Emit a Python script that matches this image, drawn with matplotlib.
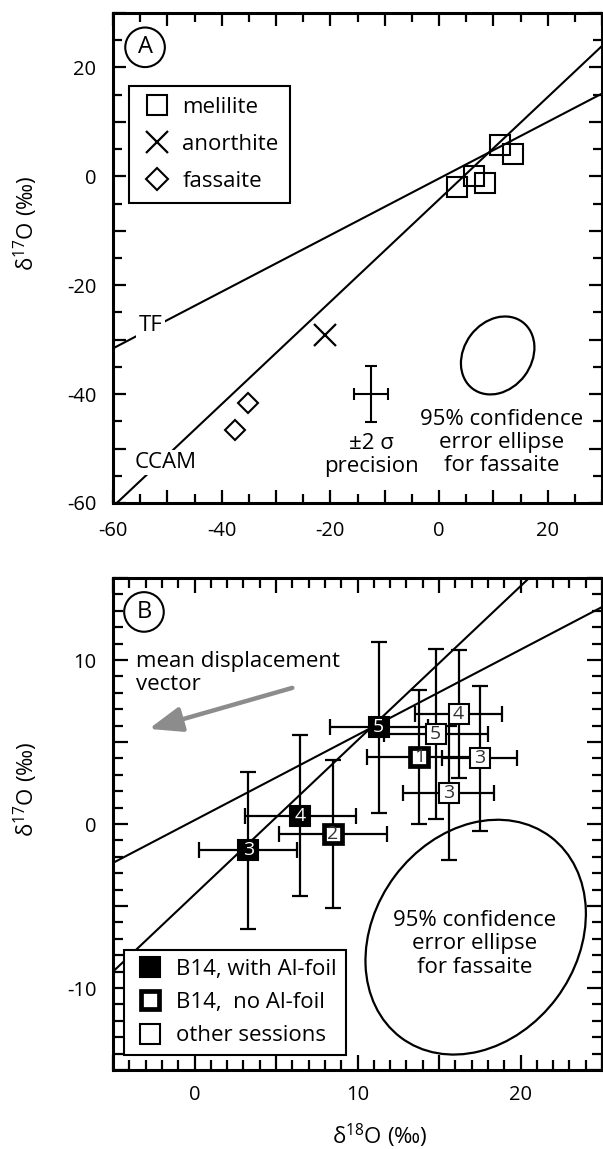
import matplotlib
matplotlib.use("Agg")
import matplotlib.pyplot as plt
from matplotlib.lines import Line2D
from matplotlib.patches import Ellipse
from matplotlib.ticker import MultipleLocator, FuncFormatter

plt.rcParams['font.family'] = ['Open Sans', 'DejaVu Sans']
plt.rcParams['mathtext.default'] = 'regular'
plt.rcParams['axes.unicode_minus'] = False

# ---- panel A data (delta18O, delta17O in permil) ----
mel_x = [3.3, 6.5, 8.5, 11.2, 13.6]
mel_y = [-1.9, 0.1, -1.2, 5.8, 4.1]
an_x = [-21.0]
an_y = [-29.1]
fas_x = [-35.1, -37.6]
fas_y = [-41.7, -46.6]
prec_x = [-12.5]
prec_y = [-40.0]
prec_xerr = [3.1]
prec_yerr = [5.1]

# reference lines: (slope, intercept)
tf_a = (0.52, -0.4)
ccam_a = (0.94, -4.25)
tf_b = (0.52, 0.23)
ccam_b = (0.94, -4.3)

# fassaite 95% error ellipse: centre A, centre B, (major, minor, angle)
ell_a = (10.8, -32.9)
ell_b = (17.25, -6.9)
ell_shape = (15.3, 12.4, 53)

# ---- panel B data ----
foil_x = [3.3, 6.5, 11.3]
foil_y = [-1.6, 0.5, 5.9]
foil_xerr = [3.0, 3.4, 3.0]
foil_yerr = [4.8, 4.9, 5.2]
foil_lab = ['3', '4', '5']

nofoil_x = [8.5, 13.8]
nofoil_y = [-0.6, 4.1]
nofoil_xerr = [3.3, 3.2]
nofoil_yerr = [4.5, 4.1]
nofoil_lab = ['2', '1']

other_x = [14.8, 16.2, 17.5, 15.6]
other_y = [5.5, 6.7, 4.0, 1.9]
other_xerr = [3.2, 2.65, 2.3, 2.8]
other_yerr = [5.2, 3.9, 4.4, 4.1]
other_lab = ['5', '4', '3', '3']

arrow_tail = (6.0, 8.3)
arrow_head = (-2.8, 5.8)

fig = plt.figure(figsize=(6.03, 11.49), dpi=100)
axA = fig.add_axes([113/603, 646/1149, 489/603, 490/1149])
axB = fig.add_axes([113/603, 79/1149, 489/603, 492/1149])


def style(ax, major, minor, every, maj_len, min_len, xpad):
    for a in (ax.xaxis, ax.yaxis):
        a.set_major_locator(MultipleLocator(major))
        a.set_minor_locator(MultipleLocator(minor))
        a.set_major_formatter(FuncFormatter(
            lambda v, p: str(int(round(v))) if int(round(v)) % every == 0 else ''))
    ax.tick_params(which='both', direction='in', top=True, right=True,
                   width=1.6, labelsize=14.5)
    ax.tick_params(which='major', length=maj_len)
    ax.tick_params(which='minor', length=min_len)
    ax.tick_params(axis='x', pad=xpad)
    ax.tick_params(axis='y', pad=12)
    for s in ax.spines.values():
        s.set_linewidth(2.2)


# ================= panel A =================
axA.set_xlim(-60, 30)
axA.set_ylim(-60, 30)
style(axA, 10, 5, 20, 9.5, 6.5, 13)

for m, c in (tf_a, ccam_a):
    axA.axline((0, c), slope=m, color='black', lw=1.5, zorder=1)

axA.plot(mel_x, mel_y, ls='none', marker='s', ms=15, mfc='none', mec='black', mew=1.5, zorder=3)
axA.plot(an_x, an_y, ls='none', marker='x', ms=16, mec='black', mew=1.6, zorder=3)
axA.plot(fas_x, fas_y, ls='none', marker='D', ms=10.5, mfc='none', mec='black', mew=1.5, zorder=3)

axA.errorbar(prec_x, prec_y, xerr=prec_xerr, yerr=prec_yerr, fmt='none',
             ecolor='black', elinewidth=1.5, capsize=4, capthick=1.5)
axA.text(prec_x[0], -51.2, '±2 σ\nprecision', fontsize=16, ha='center', va='center',
         linespacing=1.15)

axA.add_patch(Ellipse(ell_a, ell_shape[0], ell_shape[1], angle=ell_shape[2],
                      fill=False, ec='black', lw=1.6))
axA.text(11.5, -48.9, '95% confidence\nerror ellipse\nfor fassaite', fontsize=16,
         ha='center', va='center', linespacing=1.15)

axA.text(-53.1, -27.4, 'TF', fontsize=16, ha='center', va='center', zorder=2,
         bbox=dict(boxstyle='square,pad=0.1', fc='white', ec='none'))
axA.text(-50.3, -52.6, 'CCAM', fontsize=16, ha='center', va='center', zorder=2,
         bbox=dict(boxstyle='square,pad=0.1', fc='white', ec='none'))

axA.text(-54.1, 23.7, 'A', fontsize=17, ha='center', va='center',
         bbox=dict(boxstyle='circle,pad=0.33', fc='white', ec='black', lw=1.5))

handlesA = [
    Line2D([], [], ls='none', marker='s', ms=15, mfc='none', mec='black', mew=1.5),
    Line2D([], [], ls='none', marker='x', ms=16, mec='black', mew=1.6),
    Line2D([], [], ls='none', marker='D', ms=11.5, mfc='none', mec='black', mew=1.5),
]
legA = axA.legend(handlesA, ['melilite', 'anorthite', 'fassaite'], loc='upper left',
                  bbox_to_anchor=(0.033, 0.851), borderaxespad=0, fontsize=16,
                  fancybox=False, edgecolor='black', framealpha=1,
                  handlelength=1.5, handletextpad=0.4, labelspacing=0.72, borderpad=0.5)
legA.get_frame().set_linewidth(1.5)
axA.set_ylabel('δ$^{17}$O (‰)', fontsize=16)
axA.yaxis.set_label_coords(-0.15, 0.57)

# ================= panel B =================
axB.set_xlim(-5, 25)
axB.set_ylim(-15, 15)
style(axB, 5, 1, 10, 11, 7, 11)

for m, c in (tf_b, ccam_b):
    axB.axline((0, c), slope=m, color='black', lw=1.5, zorder=1)

ebk = dict(fmt='none', ecolor='black', elinewidth=1.6, capsize=6, capthick=1.6, zorder=2)
axB.errorbar(foil_x, foil_y, xerr=foil_xerr, yerr=foil_yerr, **ebk)
axB.errorbar(nofoil_x, nofoil_y, xerr=nofoil_xerr, yerr=nofoil_yerr, **ebk)
axB.errorbar(other_x, other_y, xerr=other_xerr, yerr=other_yerr, **ebk)

axB.plot(foil_x, foil_y, ls='none', marker='s', ms=15, mfc='black', mec='black', mew=1.5, zorder=3)
axB.plot(nofoil_x, nofoil_y, ls='none', marker='s', ms=13.2, mfc='white', mec='black', mew=3.4, zorder=3)
axB.plot(other_x, other_y, ls='none', marker='s', ms=15, mfc='white', mec='black', mew=1.5, zorder=3)

for xs, ys, labs, col in ((foil_x, foil_y, foil_lab, 'white'),
                          (nofoil_x, nofoil_y, nofoil_lab, '#333333'),
                          (other_x, other_y, other_lab, '#333333')):
    for x, y, t in zip(xs, ys, labs):
        axB.text(x, y, t, fontsize=14, color=col, ha='center', va='center', zorder=4)

axB.annotate('', xy=arrow_head, xytext=arrow_tail,
             arrowprops=dict(arrowstyle='-|>,head_length=1.0,head_width=0.38',
                             color='#8c8c8c', lw=3.2, shrinkA=0, shrinkB=0,
                             mutation_scale=20))
axB.text(-3.6, 9.2, 'mean displacement\nvector', fontsize=16, ha='left', va='center',
         linespacing=1.15)

axB.add_patch(Ellipse(ell_b, ell_shape[0], ell_shape[1], angle=ell_shape[2],
                      fill=False, ec='black', lw=1.6))
axB.text(17.2, -7.3, '95% confidence\nerror ellipse\nfor fassaite', fontsize=16,
         ha='center', va='center', linespacing=1.15)

axB.text(-3.1, 12.93, 'B', fontsize=17, ha='center', va='center',
         bbox=dict(boxstyle='circle,pad=0.33', fc='white', ec='black', lw=1.5))

handlesB = [
    Line2D([], [], ls='none', marker='s', ms=15, mfc='black', mec='black', mew=1.5),
    Line2D([], [], ls='none', marker='s', ms=13.2, mfc='white', mec='black', mew=3.4),
    Line2D([], [], ls='none', marker='s', ms=15, mfc='white', mec='black', mew=1.5),
]
legB = axB.legend(handlesB, ['B14, with Al-foil', 'B14,  no Al-foil', 'other sessions'],
                  loc='lower left', bbox_to_anchor=(0.0225, 0.03), borderaxespad=0,
                  fontsize=16, fancybox=False, edgecolor='black', framealpha=1,
                  handlelength=1.5, handletextpad=0.45, labelspacing=0.55, borderpad=0.4)
legB.get_frame().set_linewidth(1.5)
legB.set_zorder(5)

axB.set_ylabel('δ$^{17}$O (‰)', fontsize=16)
axB.yaxis.set_label_coords(-0.15, 0.57)
axB.set_xlabel('δ$^{18}$O (‰)', fontsize=16)
axB.xaxis.set_label_coords(0.546, -0.105)

fig.savefig('out.png', dpi=100)
